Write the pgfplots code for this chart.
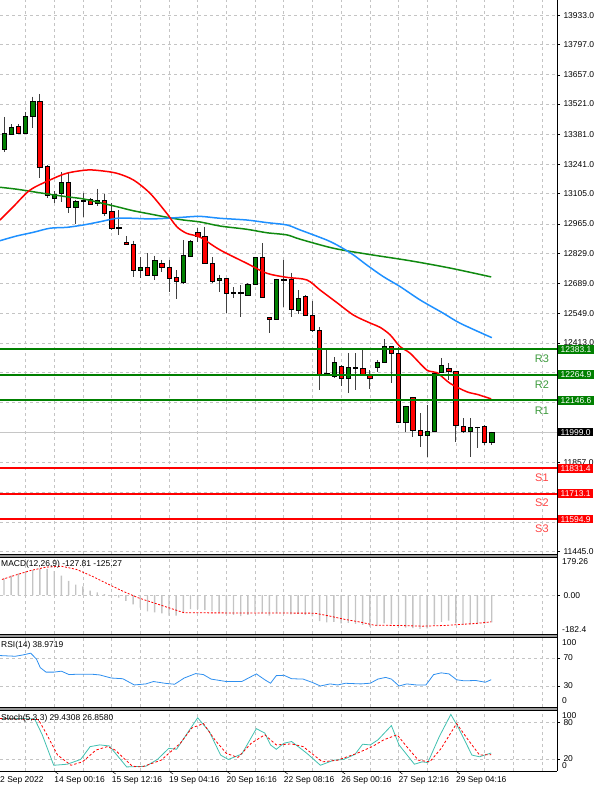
\documentclass[border=0pt]{standalone}
\usepackage{fontspec}
\setmainfont{Liberation Sans}
\usepackage{pgfplots}
\usepackage{pgfplotstable}
\pgfplotsset{compat=1.18}

\newcommand\sm{\fontsize{8.5}{9}\selectfont}
\definecolor{bull}{HTML}{008000}
\definecolor{bear}{HTML}{FF0000}
\definecolor{wickc}{HTML}{404040}
\definecolor{maRed}{HTML}{FF0000}
\definecolor{maBlue}{HTML}{1E90FF}
\definecolor{maGreen}{HTML}{108A10}
\definecolor{gridc}{HTML}{C4C4C4}
\definecolor{rtxt}{HTML}{3C9A3C}
\definecolor{stxt}{HTML}{FF4545}
\definecolor{stochc}{HTML}{40C0B0}
\definecolor{histc}{HTML}{C4C4C4}
\definecolor{rsic}{HTML}{2E8FEF}

% candles: index open high low close
\pgfplotstableread{
i o h l c
0 13311 13462 13300 13385
1 13381 13427 13377 13413
2 13419 13427 13385 13385
3 13385 13486 13385 13466
4 13466 13555 13411 13535
5 13532 13568 13177 13229
6 13232 13238 13084 13099
7 13084 13118 13061 13104
8 13107 13204 13068 13158
9 13158 13204 13014 13040
10 13040 13076 12963 13071
11 13071 13110 12998 13076
12 13080 13084 13053 13056
13 13061 13127 13050 13076
14 13076 13104 13003 13014
15 13025 13063 12937 12947
16 12949 13030 12914 12946
17 12880 12909 12870 12870
18 12870 12887 12717 12751
19 12751 12810 12713 12764
20 12764 12829 12725 12728
21 12728 12818 12705 12798
22 12782 12798 12743 12764
23 12766 12798 12648 12713
24 12717 12751 12617 12697
25 12694 12890 12686 12818
26 12813 12890 12813 12886
27 12924 12945 12882 12909
28 12906 12952 12782 12782
29 12782 12810 12689 12700
30 12705 12730 12650 12712
31 12713 12713 12553 12643
32 12645 12671 12620 12647
33 12647 12682 12532 12643
34 12635 12690 12632 12685
35 12685 12812 12682 12810
36 12810 12875 12622 12624
37 12532 12533 12460 12524
38 12522 12711 12520 12709
39 12709 12798 12581 12705
40 12709 12739 12534 12569
41 12566 12658 12546 12618
42 12627 12635 12538 12542
43 12542 12607 12465 12470
44 12473 12488 12194 12269
45 12270 12380 12264 12272
46 12256 12346 12249 12321
47 12306 12308 12213 12249
48 12249 12367 12182 12298
49 12298 12365 12194 12295
50 12295 12380 12266 12269
51 12264 12287 12198 12249
52 12300 12334 12279 12323
53 12321 12431 12320 12399
54 12395 12398 12228 12365
55 12365 12395 12044 12044
56 12045 12122 12001 12120
57 12160 12162 11978 12009
58 12009 12086 11931 11986
59 11986 12125 11882 12001
60 12001 12273 12000 12272
61 12275 12341 12273 12310
62 12295 12318 12241 12283
63 12280 12281 11954 12029
64 12024 12063 11993 12001
65 12001 12063 11885 12021
66 12021 12024 11924 12022
67 12027 12030 11939 11952
68 11952 12001 11939 11999
}\candles

\pgfplotstableread{
i v
-0.56 12983
1.30 13045
3.63 13122
6.42 13169
8.74 13200
11.53 13215
13.39 13212
15.72 13200
18.03 13169
20.36 13107
22.69 13014
24.09 12952
25.48 12921
27.34 12903
30.13 12844
33.85 12782
36.64 12736
39.43 12717
42.22 12705
44.07 12658
46.40 12600
48.72 12542
51.05 12505
52.44 12485
53.84 12450
55.23 12395
56.62 12365
58.95 12287
60.35 12275
62.20 12225
64.53 12186
65.97 12174
67.92 12153
}\maRedT

\pgfplotstableread{
i v
-0.56 12887
1.77 12909
4.09 12926
6.42 12945
8.74 12949
11.06 12960
13.39 12975
15.72 12991
18.03 12991
20.36 12988
22.69 12991
25.01 12996
27.34 13000
30.13 12991
33.85 12983
36.64 12971
39.43 12960
41.28 12937
45.01 12890
46.86 12859
48.72 12821
50.59 12774
52.90 12720
55.23 12674
58.02 12612
61.27 12550
63.60 12504
68.02 12437
}\maBlueT

\pgfplotstableread{
i v
-0.56 13135
1.77 13126
4.09 13114
6.42 13102
8.74 13091
11.06 13081
13.39 13063
15.72 13045
18.03 13026
20.36 13011
22.69 12996
25.01 12983
27.34 12974
30.13 12955
33.85 12940
36.64 12924
39.43 12914
41.28 12894
45.93 12852
50.59 12825
56.62 12794
62.20 12760
67.92 12719
}\maGreenT

\pgfplotstableread{
i v
0 79
1 92
2 102
3 110
4 118
5 123
6 123
7 113
8 92
9 67
10 49
11 41
12 21
13 13
14 5
15 -4
16 -12
17 -27
18 -43
19 -58
20 -76
21 -81
22 -85
23 -96
24 -96
25 -81
26 -66
27 -64
28 -70
29 -76
30 -80
31 -90
32 -92
33 -98
34 -92
35 -78
36 -85
37 -96
38 -86
39 -84
40 -90
41 -88
42 -92
43 -100
44 -122
45 -128
46 -126
47 -132
48 -130
49 -135
50 -140
51 -148
52 -145
53 -132
54 -135
55 -150
56 -152
57 -155
58 -158
59 -156
60 -138
61 -125
62 -120
63 -132
64 -138
65 -138
66 -136
67 -134
68 -128
}\histT

\pgfplotstableread{
i v
-0.29 73.7
1.58 94.0
3.72 116.0
5.86 131.5
8.01 136.0
10.14 120.7
12.27 89.2
14.42 53.5
16.56 18.8
18.69 -12.2
20.84 -35.7
22.98 -59.2
25.12 -82.7
43.31 -84.5
45.47 -98.6
47.56 -114.0
49.74 -126.8
51.60 -140.9
55.09 -142.3
58.30 -145.6
61.51 -142.3
63.60 -137.6
65.77 -132.9
67.92 -125.3
}\sigT

\pgfplotstableread{
i v
-0.56 73.5
1.58 72.5
2.65 74.4
3.72 76.9
4.52 68.5
5.06 56.2
5.86 49.8
6.93 49.8
8.0 51.2
9.07 46.3
10.14 46.8
12.28 46.8
13.35 45.8
14.95 41.4
16.56 40.4
18.17 31.5
19.77 33.0
20.84 36.4
22.45 33.9
23.78 32.5
25.12 41.4
26.73 47.8
27.8 46.3
28.87 39.9
31.0 36.4
33.15 36.4
35.18 47.3
36.36 38.9
37.16 34.0
37.96 44.8
39.04 45.3
40.1 40.4
41.7 39.9
43.04 34.9
44.11 30.0
45.45 33.0
46.53 31.5
47.59 33.9
49.74 33.0
51.07 34.0
52.13 39.9
53.21 42.3
54.01 39.9
55.08 30.0
56.15 33.0
57.49 31.5
58.83 31.5
59.90 46.3
60.96 48.8
62.04 47.3
63.11 38.9
64.17 37.4
65.77 37.9
67.11 35.4
67.92 38.97
}\rsiT

\pgfplotstableread{
i v
-0.56 86.1
1.58 86.1
4.26 85.6
5.33 59.4
6.93 9.4
8.80 11.1
10.68 18.9
12.01 40.0
13.35 42.8
14.69 41.1
17.10 6.7
19.77 7.8
21.38 18.9
22.98 37.2
24.05 35.6
27.0 87.2
28.60 65.0
30.20 26.1
31.27 18.9
33.15 27.8
35.18 69.4
36.36 62.2
37.16 42.8
37.96 35.6
39.03 45.6
40.10 48.3
42.24 28.9
44.11 9.4
45.99 17.8
47.32 18.9
48.93 27.2
50.0 43.9
51.07 42.8
52.14 51.1
54.01 74.4
55.08 42.8
57.22 11.1
58.29 15.0
59.09 13.9
60.70 56.7
62.30 92.8
63.37 70.6
65.24 26.1
66.31 23.3
67.28 27.2
67.92 29.43
}\stMainT

\pgfplotstableread{
i v
-0.56 86.0
4.79 84.4
5.86 62.2
7.47 26.1
9.34 9.4
10.94 15.0
12.82 34.4
14.42 40.0
15.49 34.4
17.90 7.8
19.24 6.7
21.91 17.8
24.59 45.6
26.19 70.6
27.80 77.8
29.40 51.1
31.0 28.9
32.61 22.2
34.48 45.6
36.36 59.4
37.96 42.8
40.10 44.4
41.71 40.0
44.38 15.0
46.52 17.8
49.19 28.9
51.34 40.0
52.94 51.1
54.81 59.4
56.15 40.0
57.76 17.8
59.36 15.0
60.96 37.2
63.10 77.8
64.71 51.1
66.31 26.1
67.92 26.86
}\stSigT

\pgfplotsset{
  panel/.style={
    scale only axis, width=557bp, anchor=north west,
    xmin=-0.56, xmax=77.1,
    axis line style={draw=none},
    xtick={3,7,...,75}, xticklabels={}, xtick style={draw=none},
    xmajorgrids,
    major grid style={gridc, dash pattern=on 3bp off 3bp, line width=0.6bp},
    ytick pos=right, yticklabel pos=right,
    tick align=outside, major tick length=3bp,
    ytick style={black, line width=0.5bp},
    clip mode=individual,
    scaled y ticks=false,
    ticklabel style={font=\sm},
    /pgf/number format/assume math mode=true,
  }
}

\begin{document}
\begin{tikzpicture}
\path[use as bounding box] (0bp,0bp) rectangle (600bp,-789bp);

% ---------------- main price panel ----------------
\begin{axis}[panel, at={(0bp,0bp)}, height=554bp,
  ymin=11433.3, ymax=14003.9,
  ytick={13933,13797,13657,13521,13381,13241,13105,12965,12829,12689,12549,12413,12277,12137,11997,11857,11721,11581,11445},
  yticklabels={13933.0,13797.0,13657.0,13521.0,13381.0,13241.0,13105.0,12965.0,12829.0,12689.0,12549.0,12413.0,,,,11857.0,,,11445.0},
  ymajorgrids,
]
\addplot[gray!45, line width=0.6bp] coordinates {(-0.56,11999) (77.1,11999)};

\pgfplotstablegetrowsof{\candles}
\pgfmathtruncatemacro{\nrows}{\pgfplotsretval-1}
\pgfplotsforeachungrouped \k in {0,...,\nrows}{%
  \pgfplotstablegetelem{\k}{i}\of\candles\let\cI\pgfplotsretval
  \pgfplotstablegetelem{\k}{o}\of\candles\let\cO\pgfplotsretval
  \pgfplotstablegetelem{\k}{h}\of\candles\let\cH\pgfplotsretval
  \pgfplotstablegetelem{\k}{l}\of\candles\let\cL\pgfplotsretval
  \pgfplotstablegetelem{\k}{c}\of\candles\let\cC\pgfplotsretval
  \pgfmathtruncatemacro{\up}{(\cC>=\cO)?1:0}%
  \ifnum\up=1 \def\cCol{bull}\else\def\cCol{bear}\fi
  \pgfmathsetmacro{\xa}{\cI-0.3}%
  \pgfmathsetmacro{\xb}{\cI+0.3}%
  \edef\temp{%
    \noexpand\draw[wickc, line width=0.8bp] (axis cs:\cI,\cH) -- (axis cs:\cI,\cL);%
    \noexpand\filldraw[fill=\cCol, draw=black, line width=0.5bp] (axis cs:\xa,\cO) rectangle (axis cs:\xb,\cC);%
  }\temp
}

\addplot[maGreen, line width=1.5bp, smooth] table[x=i,y=v] {\maGreenT};
\addplot[maBlue, line width=1.5bp, smooth] table[x=i,y=v] {\maBlueT};
\addplot[maRed, line width=1.5bp, smooth] table[x=i,y=v] {\maRedT};

\addplot[bull, line width=2bp] coordinates {(-0.56,12383.1) (77.1,12383.1)};
\addplot[bull, line width=2bp] coordinates {(-0.56,12264.9) (77.1,12264.9)};
\addplot[bull, line width=2bp] coordinates {(-0.56,12146.6) (77.1,12146.6)};
\addplot[bear, line width=2bp] coordinates {(-0.56,11831.4) (77.1,11831.4)};
\addplot[bear, line width=2bp] coordinates {(-0.56,11713.1) (77.1,11713.1)};
\addplot[bear, line width=2bp] coordinates {(-0.56,11594.9) (77.1,11594.9)};

\node[text=rtxt, font=\fontsize{11}{12}\selectfont, yshift=-9bp] at (axis cs:75,12383.1) {R3};
\node[text=rtxt, font=\fontsize{11}{12}\selectfont, yshift=-10bp] at (axis cs:75,12264.9) {R2};
\node[text=rtxt, font=\fontsize{11}{12}\selectfont, yshift=-10bp] at (axis cs:75,12146.6) {R1};
\node[text=stxt, font=\fontsize{11}{12}\selectfont, yshift=-10bp] at (axis cs:75,11831.4) {S1};
\node[text=stxt, font=\fontsize{11}{12}\selectfont, yshift=-9bp] at (axis cs:75,11713.1) {S2};
\node[text=stxt, font=\fontsize{11}{12}\selectfont, yshift=-10bp] at (axis cs:75,11594.9) {S3};

\coordinate (bR3) at (axis cs:77.1,12383.1);
\coordinate (bR2) at (axis cs:77.1,12264.9);
\coordinate (bR1) at (axis cs:77.1,12146.6);
\coordinate (bS1) at (axis cs:77.1,11831.4);
\coordinate (bS2) at (axis cs:77.1,11713.1);
\coordinate (bS3) at (axis cs:77.1,11594.9);
\coordinate (bP) at (axis cs:77.1,11999);
\end{axis}

% ---------------- MACD panel ----------------
\begin{axis}[panel, at={(0bp,-557bp)}, height=77bp,
  ymin=-182.4, ymax=179.26,
  ytick={0}, yticklabels={0.00}, ymajorgrids,
]
\addplot[ybar, bar width=1.4bp, fill=histc, draw=none] table[x=i,y=v] {\histT};
\addplot[red, line width=0.8bp, dash pattern=on 2bp off 1.6bp] table[x=i,y=v] {\sigT};
\end{axis}

% ---------------- RSI panel ----------------
\begin{axis}[panel, at={(0bp,-637bp)}, height=70bp,
  ymin=0, ymax=100,
  ytick={30,70}, ymajorgrids,
]
\addplot[rsic, line width=0.8bp] table[x=i,y=v] {\rsiT};
\end{axis}

% ---------------- Stochastic panel ----------------
\begin{axis}[panel, at={(0bp,-710bp)}, height=61bp,
  ymin=0, ymax=100,
  ytick={20,80}, ymajorgrids,
]
\addplot[stochc, line width=0.8bp] table[x=i,y=v] {\stMainT};
\addplot[red, line width=0.8bp, dash pattern=on 2.5bp off 2bp] table[x=i,y=v] {\stSigT};
\foreach \t/\lab in {7/14 Sep 00:16, 15/15 Sep 12:16, 23/19 Sep 04:16, 31/20 Sep 16:16,
  39/22 Sep 08:16, 47/26 Sep 00:16, 55/27 Sep 12:16, 63/29 Sep 04:16}{
  \edef\temp{\noexpand\node[anchor=north west, inner sep=0pt, font=\noexpand\sm, yshift=-5.5bp] at (axis cs:\t,0) {\lab};
    \noexpand\draw[black, line width=0.5bp] (axis cs:\t,0) -- ++(0,-3bp);}
  \temp
}
\node[anchor=north west, inner sep=0pt, font=\sm, yshift=-5.5bp] at (rel axis cs:0,0) {2 Sep 2022};
\end{axis}

% ---------------- frames and separators ----------------
\foreach \a/\b in {554/557, 634/637, 707/710}{
  \fill[black!40] (0bp,-\a bp) rectangle (557bp,-\b bp);
  \draw[black, line width=0.7bp] (0bp,-\a bp) -- (557bp,-\a bp);
  \draw[black, line width=0.7bp] (0bp,-\b bp) -- (557bp,-\b bp);
}
\draw[black, line width=0.7bp] (0bp,-771bp) -- (557bp,-771bp);
\draw[black, line width=0.8bp] (557bp,0bp) -- (557bp,-771bp);

% value boxes
\tikzset{vbox/.style={anchor=west, inner xsep=2.5bp, inner ysep=1.2bp, text height=6.2bp, text depth=0bp, text=white, font=\sm, xshift=1bp}}
\node[vbox, fill=bull] at (bR3) {12383.1};
\node[vbox, fill=bull] at (bR2) {12264.9};
\node[vbox, fill=bull] at (bR1) {12146.6};
\node[vbox, fill=black] at (bP) {11999.0};
\node[vbox, fill=bear] at (bS1) {11831.4};
\node[vbox, fill=bear] at (bS2) {11713.1};
\node[vbox, fill=bear] at (bS3) {11594.9};

% panel scale extremes
\node[anchor=north west, inner sep=0pt, font=\sm] at (562bp,-558.5bp) {179.26};
\node[anchor=south west, inner sep=0pt, font=\sm] at (562bp,-632.5bp) {-182.4};
\node[anchor=north west, inner sep=0pt, font=\sm] at (562bp,-639.5bp) {100};
\node[anchor=south west, inner sep=0pt, font=\sm] at (562bp,-704bp) {0};
\node[anchor=north west, inner sep=0pt, font=\sm] at (562bp,-712bp) {100};
\node[anchor=south west, inner sep=0pt, font=\sm] at (562bp,-768.5bp) {0};

% panel titles
\node[anchor=north west, inner sep=0pt, font=\sm] at (1bp,-560bp) {MACD(12,26,9) -127.81 -125.27};
\node[anchor=north west, inner sep=0pt, font=\sm] at (1bp,-641.5bp) {RSI(14) 38.9719};
\node[anchor=north west, inner sep=0pt, font=\sm] at (1bp,-714bp) {Stoch(5,3,3) 29.4308 26.8580};
\end{tikzpicture}
\end{document}
